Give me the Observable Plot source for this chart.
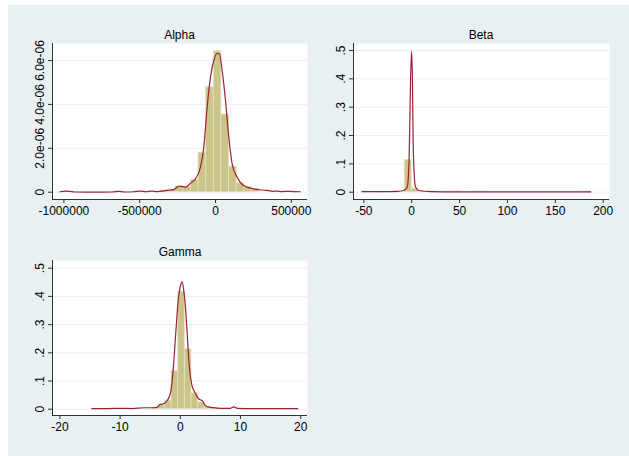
<!DOCTYPE html>
<html><head><meta charset="utf-8">
<script src="https://cdn.jsdelivr.net/npm/d3@7"></script>
<script src="https://cdn.jsdelivr.net/npm/@observablehq/plot@0.6"></script>
<style>
body{margin:0;background:#fff;}
#wrap{position:relative;width:629px;height:456px;overflow:hidden;font-family:"Liberation Sans",Arial,sans-serif;}
#bg{position:absolute;left:8px;top:5px;right:0;bottom:0;background:#e8f0f2;}
.title{position:absolute;font-size:12px;color:#000;transform:translate(-50%,-50%);white-space:nowrap;line-height:1;}
.panel{position:absolute;}
</style></head><body>
<div id="wrap"><div id="bg"></div></div>
<script>
// ---------- Data ----------
const panelTitles = ["Alpha", "Beta", "Gamma"];

// Alpha histogram (density) bins
const alphaBinLo = [-362100,-312000,-261900,-211700,-161600,-111500,-61300,-11200,38900,89000,139200,189300,239400];
const alphaBinHi = [-312000,-261900,-211700,-161600,-111500,-61300,-11200,38900,89000,139200,189300,239400,289600];
const alphaDensity = [0.08e-6,0.10e-6,0.27e-6,0.23e-6,0.56e-6,1.80e-6,4.78e-6,6.42e-6,3.54e-6,1.17e-6,0.41e-6,0.23e-6,0.15e-6];
// Alpha kernel density curve
const alphaCurveX = [-1026000,-990000,-960000,-930000,-850000,-750000,-680000,-640000,-600000,-540000,-495000,-460000,-420000,-385000,-340000,-300000,-275000,-242000,-198000,-165000,-132000,-99000,-77000,-55000,-33000,-11000,11000,26000,44000,66000,88000,110000,143000,176000,209000,253000,297000,341000,380000,407000,440000,473000,510000,560000];
const alphaCurveY = [0.02e-6,0.05e-6,0.04e-6,0.01e-6,0.005e-6,0.005e-6,0.01e-6,0.04e-6,0.01e-6,0.02e-6,0.05e-6,0.02e-6,0.05e-6,0.03e-6,0.06e-6,0.10e-6,0.12e-6,0.27e-6,0.23e-6,0.41e-6,0.61e-6,1.14e-6,2.05e-6,3.87e-6,5.24e-6,6.00e-6,6.33e-6,6.30e-6,5.54e-6,4.18e-6,2.50e-6,1.29e-6,0.68e-6,0.35e-6,0.23e-6,0.15e-6,0.10e-6,0.08e-6,0.04e-6,0.05e-6,0.03e-6,0.04e-6,0.03e-6,0.02e-6];
const alphaXTicks = [-1000000,-500000,0,500000];
const alphaXLabels = ["-1000000","-500000","0","500000"];
const alphaYTicks = [0,2e-6,4e-6,6e-6];
const alphaYLabels = ["0","2.0e-06","4.0e-06","6.0e-06"];

// Beta
const betaBinLo = [-50.5,-36.1,-21.7,-7.3,-0.1,7.1,14.3,35.9,43.1,64.7,71.9,179.9];
const betaBinHi = [-43.3,-28.9,-14.5,-0.1,7.1,14.3,21.5,43.1,50.3,71.9,79.1,187.1];
const betaDensity = [0.002,0.002,0.002,0.114,0.012,0.002,0.002,0.002,0.002,0.002,0.002,0.002];
const betaCurveX = [-52,-30,-15,-8.2,-4.7,-3,-2,-1.2,-0.2,0.8,1.5,2.6,4,7.4,20,50,100,150,187];
const betaCurveY = [0.002,0.002,0.003,0.006,0.018,0.088,0.24,0.394,0.497,0.394,0.18,0.065,0.018,0.006,0.002,0.001,0.001,0.001,0.001];
const betaXTicks = [-50,0,50,100,150,200];
const betaXLabels = ["-50","0","50","100","150","200"];
const betaYTicks = [0,0.1,0.2,0.3,0.4,0.5];
const betaYLabels = ["0",".1",".2",".3",".4",".5"];

// Gamma
const gammaBinLo = [-4.75,-3.65,-2.55,-1.45,-0.35,0.75,1.85,2.95,4.05,5.15];
const gammaBinHi = [-3.65,-2.55,-1.45,-0.35,0.75,1.85,2.95,4.05,5.15,6.25];
const gammaDensity = [0.004,0.014,0.03,0.136,0.417,0.213,0.056,0.024,0.008,0.003];
const gammaCurveX = [-14.7,-12,-10,-8,-6,-4.5,-3.8,-3.4,-2.7,-2.2,-1.6,-1.2,-0.8,-0.4,0.03,0.3,0.58,0.86,1.15,1.42,1.7,1.98,2.25,2.7,3.08,3.64,4.2,5,6.1,7.5,8.3,8.9,9.5,12,15,19.5];
const gammaCurveY = [0.002,0.002,0.003,0.002,0.005,0.005,0.007,0.016,0.02,0.03,0.06,0.136,0.255,0.373,0.438,0.452,0.42,0.361,0.267,0.172,0.113,0.08,0.066,0.048,0.036,0.03,0.012,0.006,0.004,0.003,0.003,0.008,0.003,0.002,0.002,0.002];
const gammaXTicks = [-20,-10,0,10,20];
const gammaXLabels = ["-20","-10","0","10","20"];
const gammaYTicks = [0,0.1,0.2,0.3,0.4,0.5];
const gammaYLabels = ["0",".1",".2",".3",".4",".5"];

// ---------- Drawing ----------
const wrap = document.getElementById("wrap");
const BAR_FILL = "#ccc58a", BAR_STROKE = "#e4e0c0", LINE = "#9b2335", GRID = "#e8f0f2", AXIS = "#333";

function panel(cfg) {
  const bars = cfg.lo.map((d, i) => ({x1: d, x2: cfg.hi[i], y: cfg.dens[i]}));
  const curve = cfg.cx.map((d, i) => ({x: d, y: cfg.cy[i]}));
  const svg = Plot.plot({
    width: cfg.width, height: cfg.height,
    marginLeft: cfg.m[0], marginRight: cfg.m[1], marginTop: cfg.m[2], marginBottom: cfg.m[3],
    x: {domain: cfg.xDomain, label: null},
    y: {domain: cfg.yDomain, label: null},
    style: {background: "none", fontFamily: "'Liberation Sans', Arial, sans-serif", fontSize: "12px", color: "#000", overflow: "visible"},
    marks: [
      Plot.frame({fill: "#fff", stroke: "none"}),
      Plot.gridY(cfg.yTicks, {stroke: GRID, strokeOpacity: 1, strokeWidth: 1}),
      Plot.rect(bars, {x1: "x1", x2: "x2", y1: () => 0, y2: "y", fill: BAR_FILL, stroke: BAR_STROKE, strokeWidth: 0.8}),
      Plot.line(curve, {x: "x", y: "y", stroke: LINE, strokeWidth: 1.2, curve: "monotone-x"}),
      Plot.ruleX([cfg.xDomain[0]], {stroke: AXIS}),
      Plot.ruleY([cfg.yDomain[0]], {stroke: AXIS}),
      Plot.axisX(cfg.xTicks, {tickSize: 4, tickPadding: 3, stroke: AXIS, fill: "#000", tickFormat: d => cfg.xLabels[cfg.xTicks.indexOf(d)]}),
      Plot.axisY(cfg.yTicks, {tickSize: 4, tickPadding: 5, tickRotate: -90, stroke: AXIS, fill: "#000", tickFormat: d => cfg.yLabels[cfg.yTicks.indexOf(d)]})
    ]
  });
  const div = document.createElement("div");
  div.className = "panel";
  div.style.left = cfg.left + "px";
  div.style.top = cfg.top + "px";
  div.appendChild(svg);
  wrap.appendChild(div);
  const t = document.createElement("div");
  t.className = "title";
  t.textContent = cfg.title;
  t.style.left = cfg.titleX + "px";
  t.style.top = cfg.titleY + "px";
  wrap.appendChild(t);
}

panel({title: panelTitles[0], titleX: 179.5, titleY: 35, left: 0, top: 40, width: 315, height: 185, m: [52, 8, 3, 26],
  xDomain: [-1075000, 606900], yDomain: [-0.3326e-6, 6.775e-6],
  xTicks: alphaXTicks, xLabels: alphaXLabels, yTicks: alphaYTicks, yLabels: alphaYLabels,
  lo: alphaBinLo, hi: alphaBinHi, dens: alphaDensity, cx: alphaCurveX, cy: alphaCurveY});

panel({title: panelTitles[1], titleX: 481, titleY: 35, left: 300, top: 40, width: 320, height: 185, m: [53, 11, 3, 26],
  xDomain: [-60.8, 206.6], yDomain: [-0.0258, 0.5247],
  xTicks: betaXTicks, xLabels: betaXLabels, yTicks: betaYTicks, yLabels: betaYLabels,
  lo: betaBinLo, hi: betaBinHi, dens: betaDensity, cx: betaCurveX, cy: betaCurveY});

panel({title: panelTitles[2], titleX: 180, titleY: 251.7, left: 0, top: 256, width: 315, height: 185, m: [52, 8, 4, 26],
  xDomain: [-21.23, 21.13], yDomain: [-0.0225, 0.5273],
  xTicks: gammaXTicks, xLabels: gammaXLabels, yTicks: gammaYTicks, yLabels: gammaYLabels,
  lo: gammaBinLo, hi: gammaBinHi, dens: gammaDensity, cx: gammaCurveX, cy: gammaCurveY});
</script>
</body></html>
